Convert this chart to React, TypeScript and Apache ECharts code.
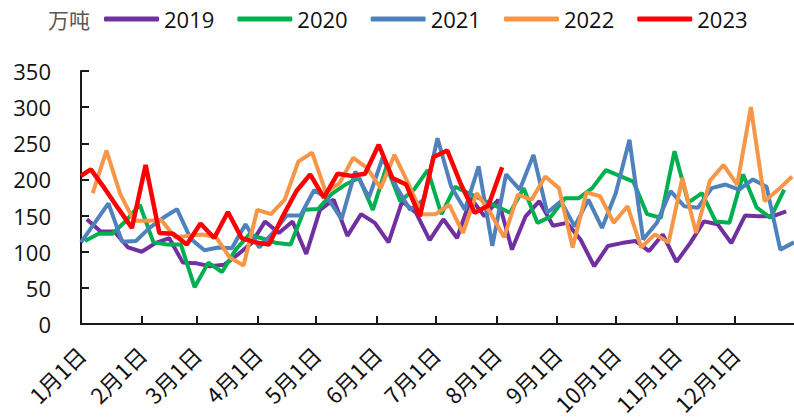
import React, { useEffect, useRef } from "react";
import * as echarts from "echarts";

// ---- categories: every day of the year (tick labels on the 1st of each month)
const MONTH_DAYS = [31, 28, 31, 30, 31, 30, 31, 31, 30, 31, 30, 31];
const categories: string[] = [];
MONTH_DAYS.forEach((n, m) => {
  for (let d = 1; d <= n; d++) categories.push(`${m + 1}月${d}日`);
});

const years = ["2019", "2020", "2021", "2022", "2023"];
const colors = ["#7030A0", "#00B050", "#4F81BD", "#F79646", "#FF0000"];
const unitLabel = "万吨";

// weekly observation days (day-of-year index of first Friday)
const start2019 = 3;
const start2020 = 2;
const start2021 = 0;
const start2022 = 6;
const extraDay2023 = 0;
const start2023 = 5;

const v2019 = [145, 128, 128, 106, 100, 112, 119, 85, 84, 80, 82, 96, 112, 142, 126, 142, 97, 158, 172, 122, 152, 140, 113, 170, 154, 116, 145, 119, 174, 149, 172, 103, 149, 170, 136, 140, 117, 80, 108, 112, 115, 101, 124, 86, 112, 142, 138, 112, 150, 149, 149, 156];
const v2020 = [115, 125, 125, 143, 165, 113, 110, 110, 51, 85, 72, 103, 124, 118, 112, 110, 158, 159, 180, 193, 202, 158, 218, 170, 186, 213, 152, 190, 181, 172, 163, 154, 188, 140, 149, 174, 174, 188, 213, 205, 197, 152, 147, 239, 168, 181, 142, 140, 207, 161, 147, 186];
const v2021 = [113, 140, 167, 114, 115, 133, 147, 159, 118, 102, 106, 105, 138, 106, 126, 150, 150, 185, 174, 145, 211, 175, 230, 190, 158, 172, 257, 190, 158, 218, 108, 207, 186, 234, 154, 170, 135, 172, 133, 181, 255, 117, 140, 184, 163, 161, 188, 193, 186, 200, 190, 103, 113];
const v2022 = [181, 240, 180, 143, 143, 144, 120, 122, 124, 120, 92, 81, 158, 152, 172, 225, 237, 182, 195, 230, 216, 188, 234, 195, 152, 152, 165, 126, 181, 154, 120, 179, 172, 204, 188, 106, 182, 177, 140, 163, 106, 124, 113, 202, 126, 198, 220, 193, 300, 170, 186, 204];
const v2023 = [205, 214, 188, 160, 133, 220, 126, 125, 110, 139, 119, 155, 119, 113, 110, 149, 184, 207, 175, 208, 205, 208, 248, 202, 193, 149, 231, 240, 193, 154, 164, 217];

const yTicks = { min: 0, max: 350, interval: 50 };

function weekly(start: number, n: number): number[] {
  const out: number[] = [];
  for (let i = 0; i < n; i++) out.push(start + 7 * i);
  return out;
}

const days = [
  weekly(start2019, v2019.length),
  weekly(start2020, v2020.length),
  weekly(start2021, v2021.length),
  weekly(start2022, v2022.length),
  [extraDay2023, ...weekly(start2023, v2023.length - 1)],
];
const values = [v2019, v2020, v2021, v2022, v2023];

const isMonthStart = (_i: number, v: string) => /月1日$/.test(v);

export default function App() {
  const ref = useRef<HTMLDivElement>(null);
  useEffect(() => {
    if (!ref.current) return;
    const chart = echarts.init(ref.current, undefined, { renderer: "svg" });
    chart.setOption({
      animation: false,
      backgroundColor: "#ffffff",
      grid: { left: 81, right: 0, top: 71, bottom: 92, containLabel: false },
      legend: {
        data: years,
        left: 99,
        top: 3,
        icon: "roundRect",
        itemWidth: 55,
        itemHeight: 5,
        itemGap: 23,
        textStyle: { fontSize: 22, fontFamily: "Open Sans", color: "#111" },
      },
      graphic: [
        {
          type: "text",
          left: 48,
          top: 8,
          style: {
            text: unitLabel,
            fontSize: 21,
            fontFamily: "Noto Sans CJK SC",
            fill: "#595959",
          },
        },
      ],
      xAxis: {
        type: "category",
        data: categories,
        boundaryGap: false,
        axisLine: { show: true, lineStyle: { color: "#1a1a1a", width: 2 } },
        axisTick: { show: true, inside: true, length: 8, interval: isMonthStart, lineStyle: { color: "#1a1a1a", width: 2 } },
        axisLabel: {
          interval: isMonthStart,
          rotate: 45,
          margin: 26,
          fontSize: 22,
          fontFamily: "Noto Sans CJK SC",
          color: "#111",
        },
        splitLine: { show: false },
      },
      yAxis: {
        type: "value",
        min: yTicks.min,
        max: yTicks.max,
        interval: yTicks.interval,
        axisLine: { show: true, lineStyle: { color: "#1a1a1a", width: 2 } },
        axisTick: { show: true, inside: true, length: 8, lineStyle: { color: "#1a1a1a", width: 2 } },
        axisLabel: { margin: 30, fontSize: 22, fontFamily: "Open Sans", color: "#111" },
        splitLine: { show: false },
      },
      series: years.map((y, i) => ({
        name: y,
        type: "line",
        symbol: "none",
        color: colors[i],
        lineStyle: { width: i === 4 ? 4.5 : 4, color: colors[i] },
        data: days[i].map((d, j) => [d, values[i][j]]),
        z: 2 + i,
      })),
    });
    return () => chart.dispose();
  }, []);
  return (
    <div
      ref={ref}
      style={{ position: "fixed", left: 0, top: 0, width: 794, height: 417 }}
    />
  );
}
